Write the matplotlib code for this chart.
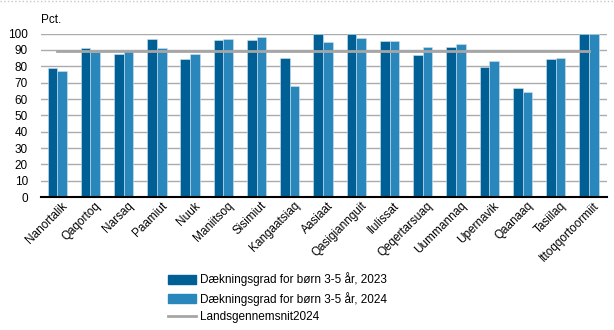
import numpy as np
import matplotlib
matplotlib.use("Agg")
import matplotlib.pyplot as plt
from matplotlib.lines import Line2D

plt.rcParams['font.family'] = ['Liberation Sans', 'DejaVu Sans']

towns = ['Nanortalik', 'Qaqortoq', 'Narsaq', 'Paamiut', 'Nuuk', 'Maniitsoq', 'Sisimiut',
         'Kangaatsiaq', 'Aasiaat', 'Qasigiannguit', 'Ilulissat', 'Qeqertarsuaq',
         'Uummannaq', 'Upernavik', 'Qaanaaq', 'Tasiilaq', 'Ittoqqortoormiit']
rate_2023 = [78.7, 91.3, 87.8, 96.5, 84.6, 95.9, 96.3, 85.4, 100, 100, 95.5, 87.2,
             91.9, 79.3, 66.5, 84.3, 100]
rate_2024 = [77.0, 88.6, 90.2, 91.3, 87.4, 96.5, 97.8, 68.1, 94.7, 97.6, 95.5, 91.9,
             93.5, 83.5, 64.2, 85.2, 100]
national_avg = 89.6

label_2023 = 'Dækningsgrad for børn 3-5 år, 2023'
label_2024 = 'Dækningsgrad for børn 3-5 år, 2024'
label_avg = 'Landsgennemsnit2024'

dark = '#006096'
light = '#2a87bb'

fig = plt.figure(figsize=(6.14, 3.30), dpi=100)
ax = fig.add_axes([0.066, 0.403, 0.922, 0.495])

x = np.arange(len(towns))
w = 0.29
ax.bar(x - w / 2, rate_2023, w, color=dark, edgecolor='#cfe3ef', linewidth=0.4,
       label=label_2023, zorder=3)
ax.bar(x + w / 2, rate_2024, w, color=light, edgecolor='#cfe3ef', linewidth=0.4,
       label=label_2024, zorder=3)
ax.plot(x, [national_avg] * len(x), color='#a6a6a6', linewidth=2, zorder=4,
        label=label_avg)

ax.set_xlim(-0.5, len(towns) - 0.47)
ax.set_ylim(0, 100)
ax.set_yticks(range(0, 101, 10))
ax.tick_params(axis='y', length=0, labelsize=8.5, pad=9)
ax.tick_params(axis='x', length=0, pad=2)
ax.set_xticks(x)
ax.set_xticklabels(towns, rotation=45, ha='right', rotation_mode='anchor', fontsize=8.5)
for t in ax.get_xticklabels():
    t.set_transform(t.get_transform() + matplotlib.transforms.ScaledTranslation(3 / 72, 0, fig.dpi_scale_trans))

ax.grid(axis='y', color='#ababab', linewidth=1, zorder=0)
for s in ['top', 'right', 'left']:
    ax.spines[s].set_visible(False)
ax.spines['bottom'].set_color('black')
ax.spines['bottom'].set_linewidth(1.5)
ax.spines['bottom'].set_zorder(5)

fig.text(0.067, 0.94, 'Pct.', fontsize=8.5, va='center')

handles = [plt.Rectangle((0, 0), 1, 1, color=dark),
           plt.Rectangle((0, 0), 1, 1, color=light),
           Line2D([0], [0], color='#a6a6a6', linewidth=2)]
fig.legend(handles, [label_2023, label_2024, label_avg], loc='lower left',
           bbox_to_anchor=(0.262, 0.0), frameon=False, fontsize=8.5,
           handlelength=2.4, handleheight=0.8, handletextpad=0.3, labelspacing=0.45,
           borderaxespad=0.2)

fig.add_artist(Line2D([0, 1], [0.998, 0.998], transform=fig.transFigure,
                      color='#c8c8c8', linestyle=':', linewidth=1))

fig.savefig('out.png', dpi=100)
